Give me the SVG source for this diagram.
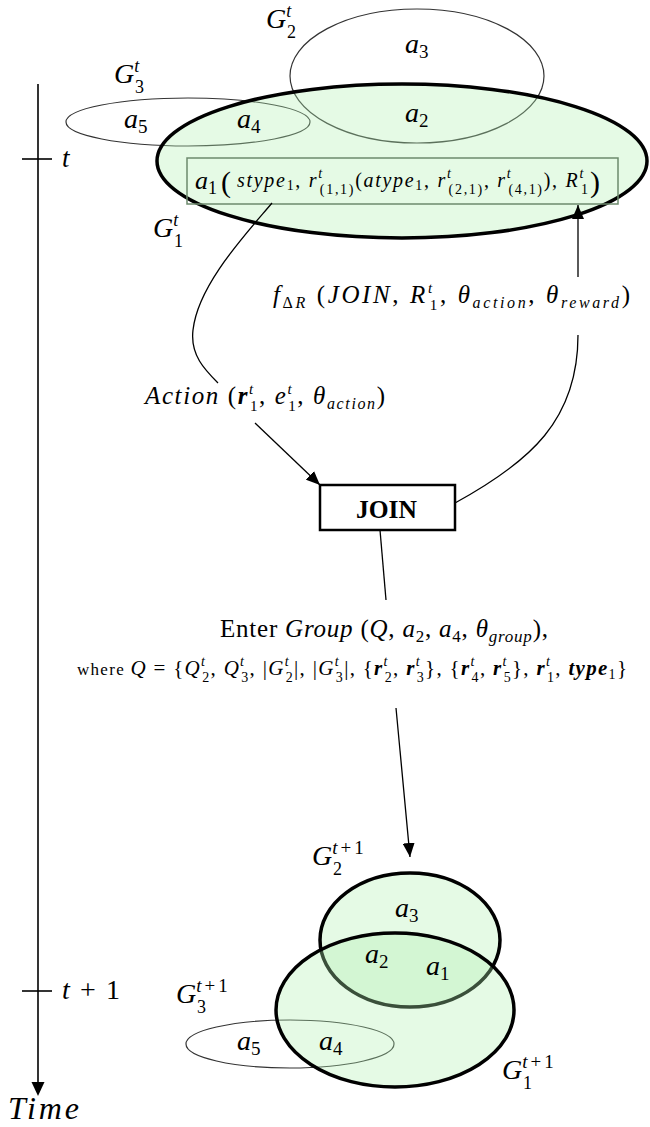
<svg xmlns="http://www.w3.org/2000/svg" width="650" height="1127" viewBox="0 0 650 1127">
<defs>
<style>
text{font-family:"Liberation Serif","DejaVu Serif",serif;fill:#000}
.mi{font-style:italic}
.up{font-style:normal}
.bd{font-weight:bold}
.thin{fill:none;stroke:#333;stroke-width:1.2}
.grp{fill:#b0f0b0;fill-opacity:0.33;stroke:#000;stroke-width:3.5}
.con{fill:none;stroke:#000;stroke-width:1.3}
.axis{stroke:#000;stroke-width:1.6;fill:none}
</style>
<marker id="ah" markerWidth="14" markerHeight="12" refX="14" refY="6" orient="auto" markerUnits="userSpaceOnUse"><path d="M0,0 L14,6 L0,12 z" fill="#000"/></marker>
</defs>
<rect width="650" height="1127" fill="#fff"/>

<!-- time axis -->
<g id="timeline">
<line class="axis" x1="38" y1="84" x2="38" y2="1084"/>
<polygon points="31.5,1082 44.5,1082 38,1096" fill="#000"/>
<line class="axis" x1="22" y1="159" x2="52" y2="159"/>
<line class="axis" x1="22" y1="991" x2="52" y2="991"/>
<text class="mi" x="62" y="167" font-size="27">t</text>
<text class="mi" x="62" y="999" font-size="28" textLength="58" lengthAdjust="spacing">t<tspan class="up"> + 1</tspan></text>
<text class="mi" x="8" y="1119" font-size="32" textLength="71" lengthAdjust="spacing">Time</text>
</g>

<!-- time t groups -->
<g id="G2t">
<ellipse class="thin" cx="417" cy="76" rx="127" ry="67"/>
<text class="mi" x="266" y="28" font-size="28">G<tspan font-size="18" dy="-11">t</tspan><tspan class="up" font-size="18" x="287" dy="21">2</tspan></text>
<text class="mi" x="405" y="53" font-size="28">a<tspan class="up" font-size="19" dy="5">3</tspan></text>
</g>
<g id="G3t">
<ellipse class="thin" cx="188" cy="122" rx="122" ry="24"/>
<text class="mi" x="114" y="83" font-size="28">G<tspan font-size="18" dy="-11">t</tspan><tspan class="up" font-size="18" x="135" dy="21">3</tspan></text>
<text class="mi" x="124" y="128" font-size="28">a<tspan class="up" font-size="19" dy="5">5</tspan></text>
</g>
<g id="G1t">
<ellipse class="grp" cx="402" cy="161" rx="245" ry="77"/>
<text class="mi" x="153" y="237" font-size="28">G<tspan font-size="18" dy="-11">t</tspan><tspan class="up" font-size="18" x="174" dy="21">1</tspan></text>
<text class="mi" x="237" y="128" font-size="28">a<tspan class="up" font-size="19" dy="5">4</tspan></text>
<text class="mi" x="405" y="122" font-size="28">a<tspan class="up" font-size="19" dy="5">2</tspan></text>
</g>
<g id="a1box">
<rect x="187" y="158" width="431" height="46" fill="none" stroke="#6d8a6d" stroke-width="1.5"/>
<text class="mi" x="195" y="189" font-size="26">a<tspan class="up" font-size="18" dy="5">1</tspan></text>
<text class="up" x="221" y="192" font-size="30">(</text>
<text class="mi" x="237" y="187" font-size="20" textLength="351" lengthAdjust="spacing">stype<tspan class="up" font-size="14" dy="3">1</tspan><tspan class="up" dy="-3">, </tspan>r<tspan font-size="14" dy="-9">t</tspan><tspan class="up" font-size="14" dx="-4" dy="16">(1,1)</tspan><tspan class="up" dy="-7">(</tspan>atype<tspan class="up" font-size="14" dy="3">1</tspan><tspan class="up" dy="-3">, </tspan>r<tspan font-size="14" dy="-9">t</tspan><tspan class="up" font-size="14" dx="-4" dy="16">(2,1)</tspan><tspan class="up" dy="-7">, </tspan>r<tspan font-size="14" dy="-9">t</tspan><tspan class="up" font-size="14" dx="-4" dy="16">(4,1)</tspan><tspan class="up" dy="-7">), </tspan>R<tspan font-size="14" dy="-9">t</tspan><tspan class="up" font-size="14" dx="-4" dy="16">1</tspan></text>
<text class="up" x="590" y="192" font-size="30">)</text>
</g>

<!-- JOIN node -->
<g id="join">
<rect x="320" y="485" width="135" height="45" fill="#fff" stroke="#000" stroke-width="2.5"/>
<text class="bd" x="356" y="518" font-size="26" textLength="61" lengthAdjust="spacingAndGlyphs">JOIN</text>
</g>

<!-- time t+1 groups -->
<g id="G3t1">
<ellipse class="thin" cx="290" cy="1044" rx="104" ry="24"/>
<text class="mi" x="176" y="1003" font-size="28">G<tspan font-size="19" dy="-11" letter-spacing="3">t</tspan><tspan class="up" font-size="19" letter-spacing="3">+1</tspan><tspan class="up" font-size="18" x="197" dy="21">3</tspan></text>
<text class="mi" x="237" y="1050" font-size="28">a<tspan class="up" font-size="19" dy="5">5</tspan></text>
</g>
<g id="G2t1">
<ellipse class="grp" cx="410" cy="940" rx="90" ry="67"/>
<text class="mi" x="312" y="865" font-size="28">G<tspan font-size="19" dy="-11" letter-spacing="3">t</tspan><tspan class="up" font-size="19" letter-spacing="3">+1</tspan><tspan class="up" font-size="18" x="333" dy="21">2</tspan></text>
<text class="mi" x="395" y="917" font-size="28">a<tspan class="up" font-size="19" dy="5">3</tspan></text>
</g>
<g id="G1t1">
<ellipse class="grp" cx="395" cy="1010" rx="119" ry="77"/>
<text class="mi" x="502" y="1079" font-size="28">G<tspan font-size="19" dy="-11" letter-spacing="3">t</tspan><tspan class="up" font-size="19" letter-spacing="3">+1</tspan><tspan class="up" font-size="18" x="523" dy="21">1</tspan></text>
<text class="mi" x="365" y="963" font-size="28">a<tspan class="up" font-size="19" dy="5">2</tspan></text>
<text class="mi" x="426" y="975" font-size="28">a<tspan class="up" font-size="19" dy="5">1</tspan></text>
<text class="mi" x="319" y="1050" font-size="28">a<tspan class="up" font-size="19" dy="5">4</tspan></text>
</g>

<!-- connectors -->
<g id="connectors">
<path class="con" d="M272,203 C245,235 198,285 193,330 C190,355 205,370 218,383"/>
<line class="con" x1="255" y1="423" x2="320" y2="485" marker-end="url(#ah)"/>
<path class="con" d="M455,503 C530,462 578,420 578,335"/>
<line class="con" x1="578" y1="277" x2="578" y2="205" marker-end="url(#ah)"/>
<line class="con" x1="380" y1="530" x2="386" y2="600"/>
<line class="con" x1="396" y1="708" x2="410" y2="857" marker-end="url(#ah)"/>
</g>

<!-- labels -->
<g id="labels">
<text class="mi" x="273" y="303" font-size="25" textLength="357" lengthAdjust="spacing">f<tspan font-size="16" dy="5"><tspan class="up">Δ</tspan>R</tspan><tspan class="up" dy="-5"> (</tspan>JOIN<tspan class="up">, </tspan>R<tspan font-size="15" dy="-10">t</tspan><tspan class="up" font-size="15" dx="-5" dy="17">1</tspan><tspan class="up" dy="-7">, </tspan>θ<tspan font-size="16" dy="5">action</tspan><tspan class="up" dy="-5">, </tspan>θ<tspan font-size="16" dy="5">reward</tspan><tspan class="up" dy="-5">)</tspan></text>
<text class="mi" x="145" y="404" font-size="25" textLength="240" lengthAdjust="spacing">Action <tspan class="up">(</tspan><tspan class="bd">r</tspan><tspan font-size="15" dy="-10">t</tspan><tspan class="up" font-size="15" dx="-5" dy="17">1</tspan><tspan class="up" dy="-7">, </tspan>e<tspan font-size="15" dy="-10">t</tspan><tspan class="up" font-size="15" dx="-5" dy="17">1</tspan><tspan class="up" dy="-7">, </tspan>θ<tspan font-size="16" dy="5">action</tspan><tspan class="up" dy="-5">)</tspan></text>
<text class="mi" x="220" y="637" font-size="25" textLength="328" lengthAdjust="spacing"><tspan class="up">Enter </tspan>Group<tspan class="up"> (</tspan>Q<tspan class="up">, </tspan>a<tspan class="up" font-size="17" dy="5">2</tspan><tspan class="up" dy="-5">, </tspan>a<tspan class="up" font-size="17" dy="5">4</tspan><tspan class="up" dy="-5">, </tspan>θ<tspan font-size="17" dy="5">group</tspan><tspan class="up" dy="-5">),</tspan></text>
<text class="mi" x="77" y="675" font-size="21" textLength="550" lengthAdjust="spacing"><tspan class="up" font-size="17">where </tspan>Q<tspan class="up"> = {</tspan>Q<tspan font-size="14" dy="-9">t</tspan><tspan class="up" font-size="14" dx="-4" dy="16">2</tspan><tspan class="up" dy="-7">, </tspan>Q<tspan font-size="14" dy="-9">t</tspan><tspan class="up" font-size="14" dx="-4" dy="16">3</tspan><tspan class="up" dy="-7">, |</tspan>G<tspan font-size="14" dy="-9">t</tspan><tspan class="up" font-size="14" dx="-4" dy="16">2</tspan><tspan class="up" dy="-7">|, |</tspan>G<tspan font-size="14" dy="-9">t</tspan><tspan class="up" font-size="14" dx="-4" dy="16">3</tspan><tspan class="up" dy="-7">|, {</tspan><tspan class="bd">r</tspan><tspan font-size="14" dy="-9">t</tspan><tspan class="up" font-size="14" dx="-4" dy="16">2</tspan><tspan class="up" dy="-7">, </tspan><tspan class="bd">r</tspan><tspan font-size="14" dy="-9">t</tspan><tspan class="up" font-size="14" dx="-4" dy="16">3</tspan><tspan class="up" dy="-7">}, {</tspan><tspan class="bd">r</tspan><tspan font-size="14" dy="-9">t</tspan><tspan class="up" font-size="14" dx="-4" dy="16">4</tspan><tspan class="up" dy="-7">, </tspan><tspan class="bd">r</tspan><tspan font-size="14" dy="-9">t</tspan><tspan class="up" font-size="14" dx="-4" dy="16">5</tspan><tspan class="up" dy="-7">}, </tspan><tspan class="bd">r</tspan><tspan font-size="14" dy="-9">t</tspan><tspan class="up" font-size="14" dx="-4" dy="16">1</tspan><tspan class="up" dy="-7">, </tspan><tspan class="bd">type</tspan><tspan class="up" font-size="14" dy="4">1</tspan><tspan class="up" dy="-4">}</tspan></text>
</g>
</svg>
